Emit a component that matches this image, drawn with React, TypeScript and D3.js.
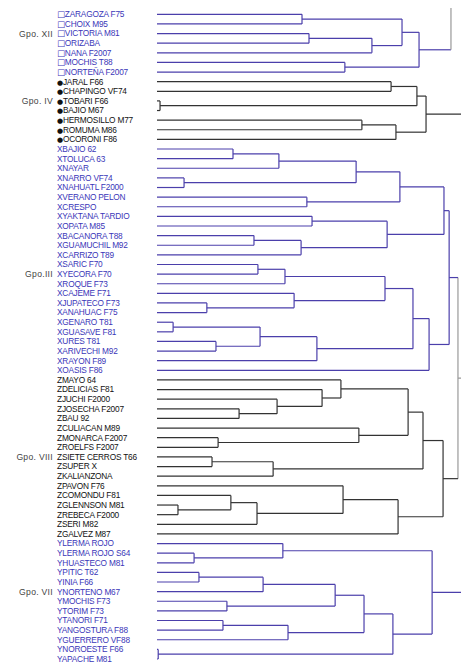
import { useMemo } from "react";
import * as d3 from "d3";

const W = 461;
const H = 666;

// leaf names per group, top to bottom
const gpoXII = ["ZARAGOZA F75", "CHOIX M95", "VICTORIA M81", "ORIZABA", "NANA F2007", "MOCHIS T88", "NORTEÑA F2007"];
const gpoIV = ["JARAL F66", "CHAPINGO VF74", "TOBARI F66", "BAJIO  M67", "HERMOSILLO M77", "ROMUMA M86", "OCORONI F86"];
const gpoIII = [
  "BAJIO 62", "TOLUCA 63", "NAYAR", "NARRO VF74", "NAHUATL F2000", "VERANO PELON", "CRESPO",
  "YAKTANA TARDIO", "OPATA M85", "BACANORA T88", "GUAMUCHIL M92", "CARRIZO T89", "SARIC F70",
  "YECORA F70", "ROQUE F73", "CAJEME F71", "JUPATECO F73", "ANAHUAC F75", "GENARO T81",
  "GUASAVE F81", "URES T81", "ARIVECHI M92", "RAYON F89", "OASIS F86",
];
const gpoVIII = [
  "MAYO 64", "DELICIAS F81", "JUCHI F2000", "JOSECHA F2007", "BAU 92", "CULIACAN M89",
  "MONARCA F2007", "ROELFS F2007", "SIETE CERROS T66", "SUPER X", "KALIANZONA", "PAVON F76",
  "COMONDU F81", "GLENNSON M81", "REBECA F2000", "SERI M82", "GALVEZ M87",
];
const gpoVII = [
  "LERMA ROJO", "LERMA ROJO S64", "HUASTECO M81", "PITIC T62", "INIA F66", "NORTENO M67",
  "MOCHIS F73", "TORIM F73", "TANORI F71", "ANGOSTURA F88", "GUERRERO VF88", "NOROESTE F66", "APACHE M81",
];

const groups = [
  { key: "XII", label: "Gpo. XII", marker: "□", names: gpoXII, labelAt: "VICTORIA M81" },
  { key: "IV", label: "Gpo. IV", marker: "●", names: gpoIV, labelAt: "TOBARI F66" },
  { key: "III", label: "Gpo.III", marker: "X", names: gpoIII, labelAt: "YECORA F70" },
  { key: "VIII", label: "Gpo. VIII", marker: "Z", names: gpoVIII, labelAt: "SIETE CERROS T66" },
  { key: "VII", label: "Gpo. VII", marker: "Y", names: gpoVII, labelAt: "NORTENO M67" },
];

// merges: [id, child a, child b, distance]; numbers are leaf indexes
const merges: [string, number | string, number | string, number][] = [
  ["a1", 0, 1, 0.477], ["a2", 2, 3, 0.5], ["a3", "a2", 4, 0.707], ["a4", "a1", "a3", 0.806],
  ["a5", 5, 6, 0.618], ["a6", "a4", "a5", 0.862],
  ["e1", 7, 8, 0.77], ["e2", 9, 10, 0.01], ["e3", "e1", "e2", 0.855], ["e4", 11, 12, 0.674],
  ["e5", "e4", 13, 0.786], ["e6", "e3", "e5", 0.885],
  ["b1", 14, 15, 0.25], ["b2", "b1", 16, 0.401], ["b3", 17, 18, 0.089], ["b4", "b2", "b3", 0.655],
  ["b5", 19, 20, 0.493], ["b6", "b4", "b5", 0.799], ["b7", 21, 22, 0.51], ["b8", 23, 24, 0.319],
  ["b9", "b8", 25, 0.474], ["b10", "b7", "b9", 0.757], ["b11", "b6", "b10", 0.944],
  ["b12", 26, 27, 0.332], ["b13", "b12", 28, 0.421], ["b14", 30, 31, 0.164], ["b15", 29, "b14", 0.451],
  ["b16", "b13", "b15", 0.75], ["b17", 32, 33, 0.053], ["b18", 34, 35, 0.194], ["b19", "b17", "b18", 0.339],
  ["b20", "b19", 36, 0.526], ["b21", "b16", "b20", 0.842], ["b22", "b21", 37, 0.895],
  ["b23", "b11", "b22", 0.961],
  ["c1", 41, 42, 0.27], ["c2", 40, "c1", 0.395], ["c3", 39, "c2", 0.543], ["c4", 38, "c3", 0.605],
  ["c5", 44, 45, 0.201], ["c6", 43, "c5", 0.664], ["c7", "c4", "c6", 0.826], ["c8", 46, 47, 0.181],
  ["c9", "c8", 48, 0.382], ["c10", "c7", "c9", 0.875], ["c11", 51, 52, 0.069], ["c12", 50, "c11", 0.243],
  ["c13", "c12", 53, 0.329], ["c14", 49, "c13", 0.612], ["c15", "c14", 54, 0.793],
  ["c16", "c10", "c15", 0.941],
  ["d1", 56, 57, 0.122], ["d2", 55, "d1", 0.414], ["d3", 58, 59, 0.138], ["d4", "d3", 60, 0.349],
  ["d5", 61, 62, 0.23], ["d6", "d4", "d5", 0.586], ["d7", 63, 64, 0.217], ["d8", "d7", 65, 0.431],
  ["d9", "d6", "d8", 0.681], ["d10", 66, 67, 0.004], ["d11", "d9", "d10", 0.776], ["d12", "d2", "d11", 0.905],
  ["r1", "b23", "c16", 0.99],
];

// branches leaving the visible part of the tree
const stems: { node: string; to: number; upTo?: number }[] = [
  { node: "a6", to: 0.967, upTo: -0.65 },
  { node: "e6", to: 1.1 },
  { node: "r1", to: 1.1 },
  { node: "d12", to: 1.1 },
];

const lineColor: Record<string, string> = { XII: "#4b3fab", IV: "#333", III: "#4b3fab", VIII: "#333", VII: "#4b3fab", root: "#999" };
const textColor: Record<string, string> = { XII: "#3a36b8", IV: "#111", III: "#3a36b8", VIII: "#111", VII: "#3a36b8" };

export default function App() {
  const leaves = useMemo(
    () => groups.flatMap(g => g.names.map(name => ({ name, group: g.key, marker: g.marker }))),
    []
  );

  const x = d3.scaleLinear().domain([0, 1]).range([157, 461]);
  const y = d3.scaleLinear().domain([0, leaves.length - 1]).range([14.3, 659]);

  const segs = useMemo(() => {
    const m = new Map<string, { pos: number; h: number; group: string }>();
    const get = (c: number | string) =>
      typeof c === "number" ? { pos: c, h: 0, group: leaves[c].group } : m.get(c)!;
    const out: { x1: number; y1: number; x2: number; y2: number; c: string }[] = [];
    for (const [id, a, b, h] of merges) {
      const na = get(a);
      const nb = get(b);
      const group = id === "r1" ? "root" : na.group;
      m.set(id, { pos: (na.pos + nb.pos) / 2, h, group });
      out.push({ x1: x(h), y1: y(na.pos), x2: x(h), y2: y(nb.pos), c: lineColor[group] });
      [na, nb].forEach(n =>
        out.push({ x1: x(n.h), y1: y(n.pos), x2: x(h), y2: y(n.pos), c: lineColor[n.group] })
      );
    }
    for (const s of stems) {
      const n = m.get(s.node)!;
      out.push({ x1: x(n.h), y1: y(n.pos), x2: x(s.to), y2: y(n.pos), c: lineColor[n.group] });
      if (s.upTo !== undefined)
        out.push({ x1: x(s.to), y1: y(n.pos), x2: x(s.to), y2: y(s.upTo), c: lineColor.root });
    }
    return out;
  }, [leaves]);

  return (
    <svg
      width={W}
      height={H}
      style={{ position: "fixed", left: 0, top: 0, background: "#fff" }}
      fontFamily="Liberation Sans, Arial, sans-serif"
    >
      {segs.map((s, i) => (
        <line key={i} x1={s.x1} y1={s.y1} x2={s.x2} y2={s.y2} stroke={s.c} strokeWidth={1.2} />
      ))}
      {leaves.map((l, i) => (
        <text
          key={l.name + i}
          x={57}
          y={y(i)}
          dy="0.35em"
          fontSize={8.3}
          fill={textColor[l.group]}
          letterSpacing={-0.2}
        >
          <tspan
            fontSize={l.marker === "●" ? 7 : l.marker === "□" ? 8.5 : 8.3}
            fontFamily={l.marker === "●" || l.marker === "□" ? "DejaVu Sans" : undefined}
          >
            {l.marker}
          </tspan>
          {l.name}
        </text>
      ))}
      {groups.map(g => (
        <text
          key={g.key}
          x={53}
          y={y(leaves.findIndex(l => l.name === g.labelAt))}
          dy="0.35em"
          fontSize={8.6}
          fill="#444"
          letterSpacing={0.3}
          textAnchor="end"
        >
          {g.label}
        </text>
      ))}
    </svg>
  );
}
